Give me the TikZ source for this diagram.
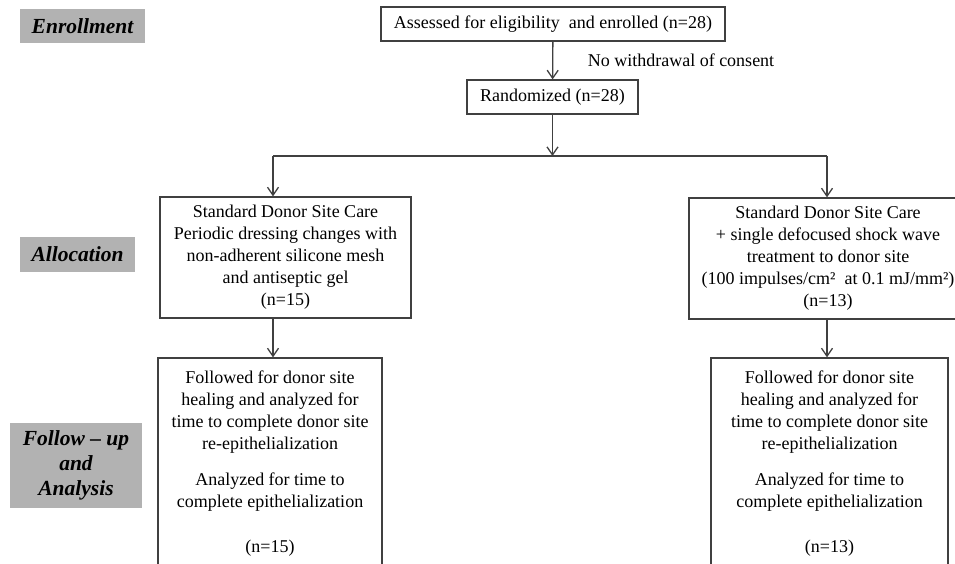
\documentclass[tikz,border=0pt]{standalone}
\usepackage{fontspec}
\setmainfont{Liberation Serif}
\usetikzlibrary{arrows.meta,positioning,calc}
\tikzset{
stage/.style={fill=black!30, inner sep=0pt, align=center, font=\fontsize{21.5}{25}\selectfont\bfseries\itshape},
box/.style={draw=black!75, line width=1.3pt, inner sep=0pt, align=center, font=\fontsize{18}{22}\selectfont},
line/.style={draw=black!75, line width=1.3pt},
arr/.style={line, -{Straight Barb[length=8pt,width=11pt,line width=1.3pt]}},
}

\begin{document}
\begin{tikzpicture}[x=1pt, y=-1pt]
        \useasboundingbox (0,0) rectangle (955,563);
        \clip (0,0) rectangle (955,563);

        \node[stage, minimum width=125pt, minimum height=34pt] (enrol) at (82.5,26) {Enrollment};
        \node[stage, minimum width=115pt, minimum height=35pt] (alloc) at (77.5,254.5) {Allocation};
        \node[stage, minimum width=132pt, minimum height=85pt] (follow) at (76,465.5)
            {Follow – up\\ and\\ Analysis};

        \node[box, minimum width=344pt, minimum height=34pt] (assess) at (553,24)
            {Assessed for eligibility\ \ and enrolled (n=28)};
        \node[box, minimum width=171pt, minimum height=34pt] (rand) at (552.5,97) {Randomized (n=28)};
        \node[font=\fontsize{18}{22}\selectfont] (consent) at (681,60) {No withdrawal of consent};

        \node[box, minimum width=251pt, minimum height=121pt] (careL) at (285.5,257.5)
            {Standard Donor Site Care\\ Periodic dressing changes with\\ non-adherent silicone mesh\\
             and antiseptic gel\\ (n=15)};
        \node[box, minimum width=278pt, minimum height=121pt] (careR) at (828,258.5)
            {Standard Donor Site Care\\ + single defocused shock wave\\ treatment to donor site\\
             (100 impulses/cm²\ \ at 0.1 mJ/mm²)\\ (n=13)};

        \node[box, minimum width=224pt, minimum height=212pt] (followL) at (270,464)
            {Followed for donor site\\ healing and analyzed for\\ time to complete donor site\\
             re-epithelialization\\[14pt] Analyzed for time to\\ complete epithelialization\\[23pt] (n=15)};
        \node[box, minimum width=237pt, minimum height=212pt] (followR) at (829.5,464)
            {Followed for donor site\\ healing and analyzed for\\ time to complete donor site\\
             re-epithelialization\\[14pt] Analyzed for time to\\ complete epithelialization\\[23pt] (n=13)};

        \coordinate (barL) at (273,156);
        \coordinate (barR) at (827,156);
        \coordinate (split) at (rand.south |- barL);

        \draw[arr] (assess) -- (rand);
        \draw[arr] (rand) -- (split);
        \draw[line] (barL) -- (barR);
        \draw[arr] (barL) -- (barL |- careL.north);
        \draw[arr] (barR) -- (barR |- careR.north);
        \draw[arr] (careL.south -| barL) -- (followL.north -| barL);
        \draw[arr] (careR.south -| barR) -- (followR.north -| barR);
    \end{tikzpicture}
\end{document}
